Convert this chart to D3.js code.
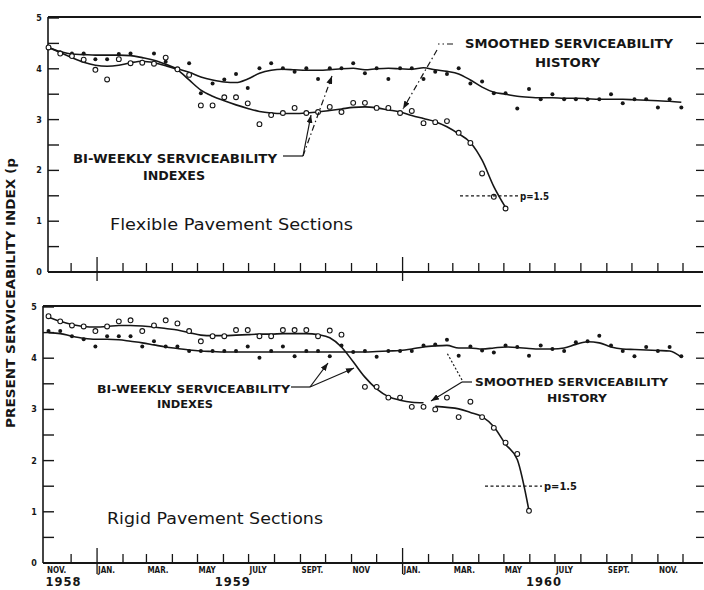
<!DOCTYPE html>
<html>
<head>
<meta charset="utf-8">
<script src="https://cdn.jsdelivr.net/npm/d3@7"></script>
<style>
  body { margin: 0; background: #fff; }
  text { fill: #161616; }
</style>
</head>
<body>
<script>
// Bi-weekly serviceability readings, one value per survey (every 14 days from Nov 4 1958)
const flexDots = [4.42, 4.32, 4.30, 4.30, 4.19, 4.19, 4.29, 4.30, 4.14, 4.30,
  4.14, 3.99, 4.11, 3.52, 3.71, 3.79, 3.90, 3.62, 4.01, 4.11,
  4.01, 3.94, 4.01, 3.80, 4.01, 4.01, 4.11, 3.91, 4.01, 3.80,
  4.01, 4.01, 3.80, 3.94, 3.90, 4.01, 3.71, 3.75, 3.52, 3.52,
  3.22, 3.60, 3.40, 3.50, 3.40, 3.40, 3.40, 3.40, 3.50, 3.32,
  3.40, 3.40, 3.24, 3.40, 3.24];
const flexDotsFit = [4.42, 4.34, 4.29, 4.28, 4.27, 4.27, 4.27, 4.26, 4.22, 4.17,
  4.09, 4.00, 3.93, 3.84, 3.78, 3.74, 3.73, 3.80, 3.91, 3.97,
  3.99, 3.98, 3.97, 3.97, 3.98, 4.00, 4.01, 3.98, 4.00, 4.01,
  4.00, 3.99, 4.02, 3.98, 3.95, 3.90, 3.78, 3.64, 3.54, 3.50,
  3.46, 3.44, 3.43, 3.43, 3.42, 3.42, 3.41, 3.40, 3.40, 3.40,
  3.39, 3.38, 3.37, 3.36, 3.34];
const flexCircles = [4.42, 4.30, 4.25, 4.18, 3.98, 3.79, 4.19, 4.11, 4.12, 4.10,
  4.22, 3.99, 3.88, 3.28, 3.28, 3.44, 3.44, 3.32, 2.91, 3.09,
  3.13, 3.23, 3.13, 3.15, 3.25, 3.15, 3.33, 3.33, 3.23, 3.23,
  3.13, 3.17, 2.93, 2.95, 2.97, 2.74, 2.54, 1.94, 1.48, 1.25];
const flexCirclesFit = [4.42, 4.32, 4.22, 4.13, 4.07, 4.05, 4.07, 4.12, 4.15, 4.12,
  4.06, 3.98, 3.78, 3.58, 3.46, 3.37, 3.29, 3.22, 3.16, 3.13,
  3.12, 3.12, 3.13, 3.15, 3.18, 3.21, 3.24, 3.25, 3.23, 3.19,
  3.15, 3.08, 3.02, 2.96, 2.86, 2.72, 2.55, 2.20, 1.68, 1.27];

const rigidDots = [4.53, 4.53, 4.43, 4.37, 4.23, 4.43, 4.43, 4.43, 4.23, 4.33,
  4.23, 4.23, 4.14, 4.14, 4.14, 4.14, 4.14, 4.23, 4.01, 4.14,
  4.23, 4.04, 4.14, 4.14, 4.04, 4.25, 4.12, 4.14, 4.03, 4.14,
  4.14, 4.14, 4.25, 4.27, 4.36, 4.05, 4.23, 4.15, 4.11, 4.25,
  4.22, 4.05, 4.25, 4.18, 4.14, 4.31, 4.33, 4.44, 4.25, 4.14,
  4.04, 4.22, 4.14, 4.22, 4.04];
const rigidDotsFit = [4.50, 4.48, 4.43, 4.39, 4.37, 4.37, 4.36, 4.33, 4.30, 4.26,
  4.22, 4.19, 4.16, 4.14, 4.13, 4.12, 4.12, 4.12, 4.12, 4.12,
  4.12, 4.12, 4.12, 4.12, 4.12, 4.12, 4.12, 4.12, 4.13, 4.14,
  4.15, 4.18, 4.22, 4.24, 4.25, 4.20, 4.20, 4.18, 4.20, 4.22,
  4.21, 4.19, 4.18, 4.18, 4.20, 4.27, 4.32, 4.30, 4.22, 4.18,
  4.17, 4.16, 4.15, 4.14, 4.02];
const rigidCircles = [4.82, 4.72, 4.64, 4.62, 4.53, 4.62, 4.72, 4.74, 4.53, 4.64,
  4.74, 4.68, 4.53, 4.33, 4.43, 4.43, 4.55, 4.55, 4.43, 4.43,
  4.55, 4.55, 4.55, 4.43, 4.54, 4.46, null, 3.44, 3.44, 3.23,
  3.23, 3.05, 3.05, 3.00, 3.23, 2.85, 3.15, 2.85, 2.64, 2.35,
  2.13, 1.02];
const rigidCirclesFit = [4.80, 4.72, 4.66, 4.62, 4.61, 4.62, 4.64, 4.64, 4.63, 4.61,
  4.58, 4.55, 4.50, 4.45, 4.44, 4.44, 4.45, 4.46, 4.47, 4.47,
  4.48, 4.48, 4.48, 4.46, 4.40, 4.22, 3.93, 3.63, 3.40, 3.25,
  3.18, 3.14, 3.13, 3.06, 3.04, 3.01, 2.94, 2.86, 2.66, 2.32,
  2.02, 1.02];
const rigidCirclesBreak = 33; // the drawn history has a gap before this survey

const terminalLevel = 1.5;
const monthLabels = ['NOV.', 'JAN.', 'MAR.', 'MAY', 'JULY', 'SEPT.', 'NOV',
  'JAN.', 'MAR.', 'MAY', 'JULY', 'SEPT.', 'NOV.'];
const yearLabels = ['1958', '1959', '1960'];
const yearLabelDates = [new Date(1958, 10, 22), new Date(1959, 5, 12), new Date(1960, 5, 18)];

const width = 704, height = 590;
const ink = '#161616';
const capsFont = 'DejaVu Sans, sans-serif';

const svg = d3.select('body').append('svg')
  .attr('width', width)
  .attr('height', height)
  .style('font-family', capsFont);

svg.append('rect').attr('width', width).attr('height', height).attr('fill', '#fff');

const defs = svg.append('defs');
defs.append('marker')
  .attr('id', 'arrow')
  .attr('viewBox', '0 0 8 6')
  .attr('refX', 8).attr('refY', 3)
  .attr('markerWidth', 8).attr('markerHeight', 6)
  .attr('markerUnits', 'userSpaceOnUse')
  .attr('orient', 'auto')
  .append('path').attr('d', 'M0,0 L8,3 L0,6 z').attr('fill', ink);

// Time axis: equal month spacing, Nov 1958 at the left axis
const x = d3.scaleTime()
  .domain([new Date(1958, 10, 1), new Date(1960, 11, 1)])
  .range([46, 683]);
const axisRight = 702;

const surveyDates = d3.timeDay.range(new Date(1958, 10, 4), new Date(1961, 0, 1), 14);
const months = d3.timeMonth.range(new Date(1958, 11, 1), new Date(1960, 11, 2));

const panels = [
  { name: 'flex', top: 17, bottom: 272, left: 48, y: d3.scaleLinear().domain([0, 5]).range([272, 18]) },
  { name: 'rigid', top: 306, bottom: 563, left: 43, y: d3.scaleLinear().domain([0, 5]).range([563, 307]) }
];

panels.forEach((p, pi) => {
  const g = svg.append('g');
  // frame
  g.append('line').attr('x1', p.left).attr('x2', axisRight - 1).attr('y1', p.top).attr('y2', p.top)
    .attr('stroke', ink).attr('stroke-width', 2);
  g.append('line').attr('x1', p.left).attr('x2', p.left).attr('y1', p.top).attr('y2', p.bottom)
    .attr('stroke', ink).attr('stroke-width', 1.6);
  g.append('line').attr('x1', p.left).attr('x2', axisRight + 1).attr('y1', p.bottom).attr('y2', p.bottom)
    .attr('stroke', ink).attr('stroke-width', 1.8);

  // y ticks on both sides, pointing inward
  const yTicks = d3.range(0.5, 5.01, 0.5);
  g.selectAll('.ltick').data(yTicks).join('line')
    .attr('x1', p.left).attr('x2', p.left + 11)
    .attr('y1', d => p.y(d)).attr('y2', d => p.y(d))
    .attr('stroke', ink).attr('stroke-width', 1.4);
  g.selectAll('.rtick').data(yTicks.filter(d => d < 5)).join('line')
    .attr('x1', axisRight - 6).attr('x2', axisRight + 2)
    .attr('y1', d => p.y(d)).attr('y2', d => p.y(d))
    .attr('stroke', ink).attr('stroke-width', 1.3);
  g.selectAll('.ylab').data(d3.range(0, 6)).join('text')
    .attr('x', p.left - 9).attr('y', d => p.y(d) + 3)
    .attr('text-anchor', 'middle')
    .attr('font-size', 8).attr('font-weight', 'bold')
    .text(d => d);

  // month ticks, January ones taller
  g.selectAll('.xtick').data(months).join('line')
    .attr('x1', d => x(d)).attr('x2', d => x(d))
    .attr('y1', d => d.getMonth() === 0 ? p.bottom - 15 : p.bottom - 9)
    .attr('y2', d => d.getMonth() === 0 ? p.bottom + (pi === 0 ? 9 : 11) : p.bottom)
    .attr('stroke', ink).attr('stroke-width', 1.3);

  const fits = p.name === 'flex'
    ? [{ v: flexDotsFit }, { v: flexCirclesFit }]
    : [{ v: rigidDotsFit }, { v: rigidCirclesFit, brk: rigidCirclesBreak }];
  const line = d3.line()
    .x(d => x(d.date)).y(d => p.y(d.v))
    .curve(d3.curveMonotoneX);
  fits.forEach(f => {
    const pts = f.v.map((v, i) => ({ date: surveyDates[i], v }));
    const segs = f.brk ? [pts.slice(0, f.brk), pts.slice(f.brk)] : [pts];
    segs.forEach(s => {
      g.append('path').datum(s).attr('d', line)
        .attr('fill', 'none').attr('stroke', ink).attr('stroke-width', 1.6);
    });
  });

  const dots = p.name === 'flex' ? flexDots : rigidDots;
  const circles = p.name === 'flex' ? flexCircles : rigidCircles;
  g.selectAll('.dot').data(dots.map((v, i) => ({ date: surveyDates[i], v }))).join('circle')
    .attr('cx', d => x(d.date)).attr('cy', d => p.y(d.v))
    .attr('r', 2).attr('fill', ink);
  g.selectAll('.ring').data(circles.map((v, i) => ({ date: surveyDates[i], v })).filter(d => d.v != null))
    .join('circle')
    .attr('cx', d => x(d.date)).attr('cy', d => p.y(d.v))
    .attr('r', 2.4).attr('fill', '#fff').attr('stroke', ink).attr('stroke-width', 1.1);

  // terminal serviceability level
  const pl = pi === 0 ? [460, 518] : [485, 542];
  g.append('line').attr('x1', pl[0]).attr('x2', pl[1])
    .attr('y1', p.y(terminalLevel)).attr('y2', p.y(terminalLevel))
    .attr('stroke', ink).attr('stroke-width', 1.2).attr('stroke-dasharray', '3,2.5');
  g.append('text').attr('x', pl[1] + 2).attr('y', p.y(terminalLevel) + 4)
    .attr('font-size', 11).attr('font-weight', 'bold')
    .attr('textLength', pi === 0 ? 29 : 33).attr('lengthAdjust', 'spacingAndGlyphs')
    .text('p=1.5');
});

// annotation text
function label(t, xp, yp, len, size, weight) {
  svg.append('text').attr('x', xp).attr('y', yp)
    .attr('font-size', size).attr('font-weight', weight || 'bold')
    .attr('textLength', len).attr('lengthAdjust', 'spacingAndGlyphs')
    .text(t);
}
label('BI-WEEKLY SERVICEABILITY', 73, 163, 204, 11.5);
label('INDEXES', 143, 180, 62, 11.5);
label('SMOOTHED SERVICEABILITY', 465, 48, 208, 11.5);
label('HISTORY', 535, 67, 65, 11.5);
label('Flexible Pavement Sections', 110, 230, 243, 16.5, 'normal');
label('BI-WEEKLY SERVICEABILITY', 97, 393, 193, 11);
label('INDEXES', 157, 408, 56, 11);
label('SMOOTHED SERVICEABILITY', 475, 386, 193, 11);
label('HISTORY', 547, 402, 60, 11);
label('Rigid Pavement Sections', 107, 524, 216, 16.5, 'normal');

// leader lines
function leader(pts, dash, arrow) {
  svg.append('path')
    .attr('d', d3.line()(pts))
    .attr('fill', 'none').attr('stroke', ink).attr('stroke-width', 1.2)
    .attr('stroke-dasharray', dash || null)
    .attr('marker-end', arrow ? 'url(#arrow)' : null);
}
leader([[283, 156], [303, 156]]);
leader([[303, 156], [311, 115]], null, true);
leader([[303, 156], [332, 76]], '6,3,1.5,3', true);
leader([[453, 44], [438, 44]], '6,3,1.5,3');
leader([[437, 50], [403, 109]], '6,3,1.5,3', true);

leader([[291, 387], [310, 387]]);
leader([[310, 387], [328, 363]], null, true);
leader([[310, 387], [354, 368]], null, true);
leader([[472, 382], [462, 382]]);
leader([[462, 382], [431, 401]], null, true);
leader([[462, 380], [447, 353]], '2,2');

// month and year labels under the lower panel
svg.selectAll('.mlab').data(monthLabels).join('text')
  .attr('x', (d, i) => x(d3.timeMonth.offset(new Date(1958, 10, 1), i * 2)) + 1)
  .attr('y', 573)
  .attr('font-family', 'DejaVu Sans Condensed, DejaVu Sans, sans-serif')
  .attr('font-size', 8).attr('font-weight', 'bold')
  .text(d => d);
svg.selectAll('.ylabel').data(yearLabels).join('text')
  .attr('x', (d, i) => x(yearLabelDates[i]))
  .attr('y', 586)
  .attr('text-anchor', 'middle')
  .attr('font-size', 11.5).attr('font-weight', 'bold')
  .attr('letter-spacing', 1)
  .text(d => d);

// shared y axis title
svg.append('text')
  .attr('transform', 'translate(15,293) rotate(-90)')
  .attr('text-anchor', 'middle')
  .attr('font-size', 11.5).attr('font-weight', 'bold')
  .attr('textLength', 270).attr('lengthAdjust', 'spacingAndGlyphs')
  .text('PRESENT SERVICEABILITY INDEX (p');
</script>
</body>
</html>
